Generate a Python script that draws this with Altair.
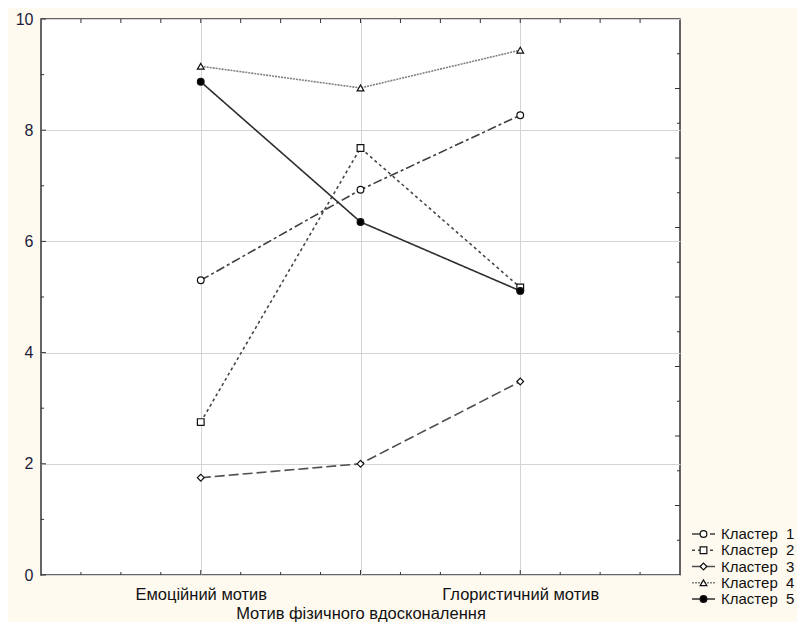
import altair as alt
import pandas as pd

# ---------------- data ----------------
categories = ["Емоційний мотив", "Мотив фізичного вдосконалення", "Глористичний мотив"]
series = ["Кластер\u00a0 1", "Кластер\u00a0 2", "Кластер\u00a0 3", "Кластер\u00a0 4", "Кластер\u00a0 5"]
cluster1 = [5.30, 6.93, 8.27]
cluster2 = [2.75, 7.68, 5.17]
cluster3 = [1.75, 2.00, 3.48]
cluster4 = [9.15, 8.76, 9.44]
cluster5 = [8.87, 6.35, 5.11]
values = [cluster1, cluster2, cluster3, cluster4, cluster5]

y_major = [0, 2, 4, 6, 8, 10]
y_minor = [1, 3, 5, 7, 9]
x_major = [1, 2, 3]
x_minor = [0.25, 0.5, 0.75, 1.25, 1.5, 1.75, 2.25, 2.5, 2.75, 3.25, 3.5, 3.75]
right_major = [1.25, 2.5, 3.75, 5, 6.25, 7.5, 8.75]
right_minor = [0.625, 1.875, 3.125, 4.375, 5.625, 6.875, 8.125, 9.375]

# ---------------- styles ----------------
W, H = 639, 556
dashes = [[9, 3, 3, 3], [3, 3], [10, 4], [2, 1], [1, 0]]
line_colors = ["#3f3f3f", "#474747", "#4f4f4f", "#808080", "#2e2e2e"]
line_widths = [1.6, 1.6, 1.6, 1.0, 1.9]
shapes = ["circle", "square", "diamond", "triangle-up", "circle"]
fills = ["white", "white", "white", "white", "black"]
sizes = [45, 45, 55, 55, 70]
FONT = "Liberation Sans"

rows = []
for s, vals in zip(series, values):
    for i, (c, v) in enumerate(zip(categories, vals), start=1):
        rows.append({"series": s, "xi": i, "cat": c, "v": v})
df = pd.DataFrame(rows)

# label expression: middle category on a second line
expr_parts = []
for i, c in enumerate(categories, start=1):
    lab = "'" + c + "'" if i % 2 == 1 else "[' ', '" + c + "']"
    expr_parts.append(f"datum.value == {i} ? {lab} : ")
label_expr = "".join(expr_parts) + "''"

x_scale = alt.Scale(domain=[0, 4], nice=False, zero=False)
y_scale = alt.Scale(domain=[0, 10], nice=False, zero=False)
x_axis = alt.Axis(values=x_major, grid=True, gridColor="#d4d4d4", gridWidth=1,
                  ticks=False, domain=False, labelExpr=label_expr, labelFont=FONT,
                  labelFontSize=16.5, labelColor="#111111", labelPadding=11,
                  labelLineHeight=19, labelOverlap=False, labelFlush=False,
                  labelBound=False, labelLimit=600, title=None)
y_axis = alt.Axis(values=y_major, grid=True, gridColor="#d4d4d4", gridWidth=1,
                  ticks=False, domain=False, labelFont=FONT, labelFontSize=16,
                  labelColor="#1c1c3a", labelPadding=8, title=None, format="d")

dash_scale = alt.Scale(domain=series, range=dashes)
color_scale = alt.Scale(domain=series, range=line_colors)
width_scale = alt.Scale(domain=series, range=line_widths)
shape_scale = alt.Scale(domain=series, range=shapes)
fill_scale = alt.Scale(domain=series, range=fills)
size_scale = alt.Scale(domain=series, range=sizes)

X = alt.X("xi:Q", scale=x_scale, axis=x_axis)
Y = alt.Y("v:Q", scale=y_scale, axis=y_axis)

lines = alt.Chart(df).mark_line(strokeCap="butt").encode(
    x=X, y=Y,
    strokeDash=alt.StrokeDash("series:N", scale=dash_scale, legend=None),
    stroke=alt.Stroke("series:N", scale=color_scale, legend=None),
    strokeWidth=alt.StrokeWidth("series:N", scale=width_scale, legend=None),
)
points = alt.Chart(df).mark_point(filled=True, stroke="#111111", strokeWidth=1.2, opacity=1).encode(
    x=X, y=Y,
    shape=alt.Shape("series:N", scale=shape_scale, legend=None),
    fill=alt.Fill("series:N", scale=fill_scale, legend=None),
    size=alt.Size("series:N", scale=size_scale, legend=None),
)

def vticks(vals, y0, y1):
    return alt.Chart(pd.DataFrame({"t": vals})).mark_rule(color="#333333", strokeWidth=1).encode(
        x=alt.X("t:Q", scale=x_scale, axis=x_axis), y=alt.value(y0), y2=alt.value(y1))

def hticks(vals, x0, x1):
    return alt.Chart(pd.DataFrame({"t": vals})).mark_rule(color="#333333", strokeWidth=1).encode(
        y=alt.Y("t:Q", scale=y_scale, axis=y_axis), x=alt.value(x0), x2=alt.value(x1))

ticks = [
    vticks(x_major, H, H - 5), vticks(x_minor, H, H - 3),
    vticks(x_major + x_minor, 0, 4),
    hticks(y_major, 0, 5), hticks(y_minor, 0, 3),
    hticks(right_major, W, W - 5), hticks(right_minor, W, W - 3),
]

inner = alt.layer(lines, points, *ticks)

# ---------------- legend (own scales, placed right of the plot) ----------------
leg = pd.DataFrame({"series": series, "order": list(range(len(series))),
                    "s": [0] * len(series), "m": [0.5] * len(series), "e": [1] * len(series)})
LX = alt.Scale(domain=[0, 1], range=[651, 674], nice=False, zero=False)
LY = alt.Scale(domain=[0, 4], range=[515, 580], nice=False, zero=False)
leg_base = alt.Chart(leg)
leg_lines = leg_base.mark_rule(strokeCap="butt").encode(
    x=alt.X("s:Q", scale=LX, axis=None), x2="e:Q",
    y=alt.Y("order:Q", scale=LY, axis=None),
    strokeDash=alt.StrokeDash("series:N", scale=dash_scale, legend=None),
    stroke=alt.Stroke("series:N", scale=color_scale, legend=None),
    strokeWidth=alt.StrokeWidth("series:N", scale=width_scale, legend=None),
)
leg_points = leg_base.mark_point(filled=True, stroke="#111111", strokeWidth=1.2, opacity=1).encode(
    x=alt.X("m:Q", scale=LX, axis=None),
    y=alt.Y("order:Q", scale=LY, axis=None),
    shape=alt.Shape("series:N", scale=shape_scale, legend=None),
    fill=alt.Fill("series:N", scale=fill_scale, legend=None),
    size=alt.Size("series:N", scale=size_scale, legend=None),
)
leg_text = leg_base.mark_text(align="left", baseline="middle", dx=6, font=FONT,
                              fontSize=15, color="#111111").encode(
    x=alt.X("e:Q", scale=LX, axis=None),
    y=alt.Y("order:Q", scale=LY, axis=None),
    text="series:N",
)
legend = alt.layer(leg_lines, leg_points, leg_text)

chart = alt.layer(inner, legend).resolve_scale(x="independent", y="independent").properties(
    width=W, height=H,
    background="#fffaf0",
    padding={"left": 7, "top": 3, "right": 2, "bottom": 0},
).configure_view(fill="white", stroke="#333333", strokeWidth=1.5)

chart.save("out.html", embed_options={"renderer": "svg", "actions": False})
